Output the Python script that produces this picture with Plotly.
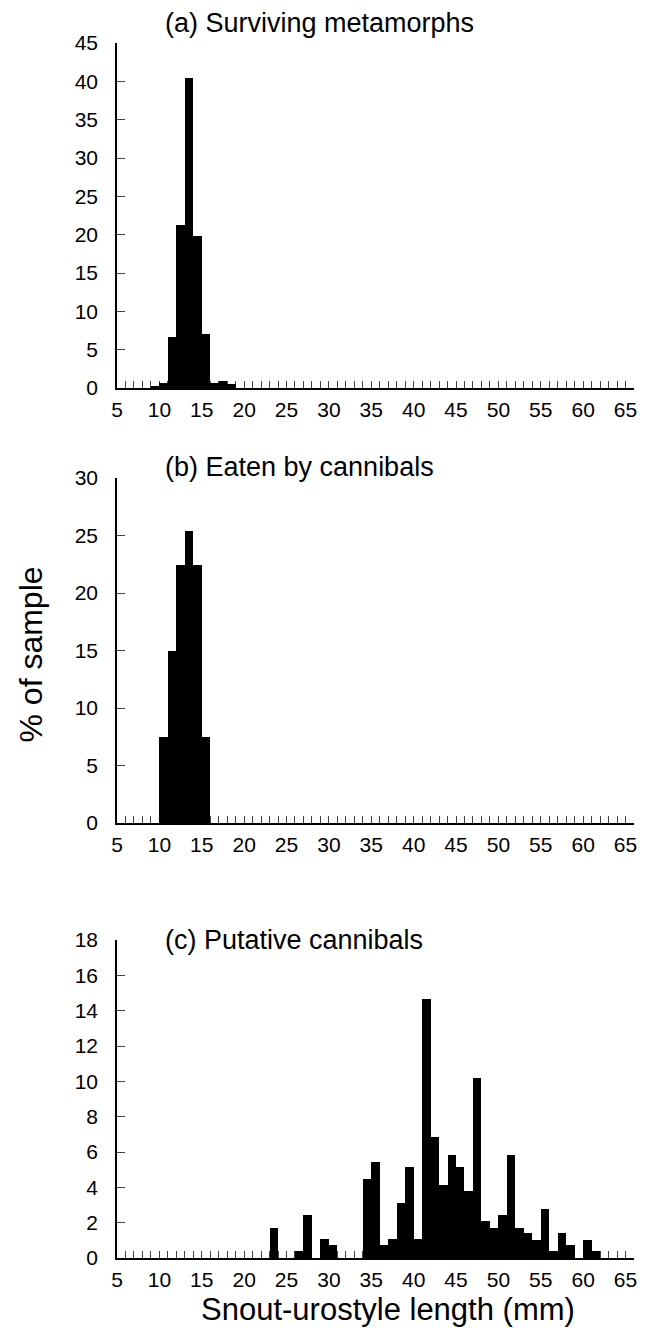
import plotly.graph_objects as go

# ---- data (bin left edges in mm, % of sample) ----
a_bins = [9, 10, 11, 12, 13, 14, 15, 16, 17, 18]
a_vals = [0.15, 0.7, 6.6, 21.2, 40.4, 19.85, 7.0, 0.6, 0.9, 0.5]

b_bins = [10, 11, 12, 13, 14, 15]
b_vals = [7.5, 15.0, 22.4, 25.4, 22.4, 7.5]

c_bins = [23, 26, 27, 29, 30, 34, 35, 36, 37, 38, 39, 40, 41, 42, 43, 44, 45,
          46, 47, 48, 49, 50, 51, 52, 53, 54, 55, 56, 57, 58, 60, 61]
c_vals = [1.72, 0.38, 2.42, 1.06, 0.73, 4.45, 5.46, 0.73, 1.06, 3.1, 5.13, 1.06,
          14.64, 6.83, 4.12, 5.83, 5.13, 3.81, 10.2, 2.07, 1.72, 2.42, 5.83,
          1.72, 1.39, 1.04, 2.75, 0.38, 1.39, 0.73, 1.04, 0.38]

titles = ["(a) Surviving metamorphs", "(b) Eaten by cannibals", "(c) Putative cannibals"]
y_max = [45, 30, 18]
y_dtick = [5, 5, 2]
x_tickvals = list(range(5, 67))
x_ticktext = [str(v) if v % 5 == 0 else "" for v in x_tickvals]
x_title = "Snout-urostyle length (mm)"
y_title = "% of sample"

# ---- layout geometry (pixels) ----
W, H = 646, 1328
L, R = 117, 637
T, B = 43, 1258
panel_tops = [43, 478, 940]
panel_bots = [388, 823, 1258]
title_y = [23, 467, 940]
PH = B - T

def py(p):
    return (B - p) / PH

def px(p):
    return (p - L) / (R - L)

FONT = "Liberation Sans, Arial, Helvetica, sans-serif"

fig = go.Figure()
data = [(a_bins, a_vals), (b_bins, b_vals), (c_bins, c_vals)]
for i, (bins, vals) in enumerate(data):
    sfx = "" if i == 0 else str(i + 1)
    fig.add_trace(go.Bar(
        x=bins, y=vals, width=1, offset=0,
        marker=dict(color="black", line=dict(width=0)),
        xaxis="x" + sfx, yaxis="y" + sfx, showlegend=False,
        hoverinfo="x+y",
    ))
    xa = dict(
        domain=[0, 1], range=[5, 66], anchor="y" + sfx,
        tickmode="array", tickvals=x_tickvals, ticktext=x_ticktext,
        ticks="inside", ticklen=7, tickwidth=1, tickcolor="#444",
        showline=True, linecolor="black", linewidth=1.5,
        showgrid=False, zeroline=False, layer="below traces",
        tickfont=dict(family=FONT, size=21, color="black"),
        ticklabelstandoff=2, fixedrange=True,
    )
    ya = dict(
        domain=[py(panel_bots[i]), py(panel_tops[i])],
        range=[0, y_max[i]], dtick=y_dtick[i], tick0=0, anchor="x" + sfx,
        ticks="inside", ticklen=8, tickwidth=1, tickcolor="#444",
        showline=True, linecolor="black", linewidth=1.5,
        showgrid=False, zeroline=False, layer="below traces",
        tickfont=dict(family=FONT, size=21, color="black"),
        ticklabelstandoff=13, fixedrange=True,
    )
    fig.update_layout(**{"xaxis" + sfx: xa, "yaxis" + sfx: ya})
    fig.add_annotation(
        text=titles[i], xref="paper", yref="paper",
        x=px(163), y=py(title_y[i]), xanchor="left", yanchor="middle",
        showarrow=False, font=dict(family=FONT, size=27, color="black"),
    )

fig.add_annotation(
    text=x_title, xref="paper", yref="paper",
    x=px(390), y=py(1309), xanchor="center", yanchor="middle",
    showarrow=False, font=dict(family=FONT, size=31, color="black"),
)
fig.add_annotation(
    text=y_title, xref="paper", yref="paper", textangle=-90,
    x=px(30), y=py(655), xanchor="center", yanchor="middle",
    showarrow=False, font=dict(family=FONT, size=32, color="black"),
)

fig.update_layout(
    width=W, height=H,
    margin=dict(l=L, r=W - R, t=T, b=H - B, pad=0),
    paper_bgcolor="white", plot_bgcolor="white",
    bargap=0, barmode="overlay",
    font=dict(family=FONT, color="black"),
)

fig.write_html(
    "out.html",
    config={"displayModeBar": False},
    post_script="document.body.style.margin='0';document.body.style.overflow='hidden';",
)
